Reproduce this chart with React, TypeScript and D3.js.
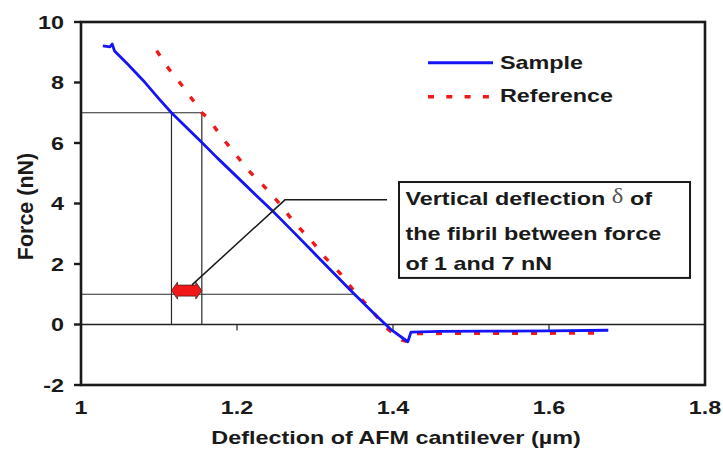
import React from "react";
import * as d3 from "d3";

// Force–deflection curves: [deflection (µm), force (nN)]
const sampleCurve: [number, number][] = [
  [1.028, 9.21], [1.037, 9.18], [1.040, 9.27], [1.043, 9.04], [1.060, 8.60],
  [1.080, 8.06], [1.100, 7.46], [1.116, 7.00], [1.135, 6.52], [1.155, 6.02],
  [1.175, 5.50], [1.200, 4.88], [1.225, 4.26], [1.246, 3.74], [1.270, 3.12],
  [1.295, 2.46], [1.320, 1.80], [1.349, 1.04], [1.375, 0.38], [1.398, -0.18],
  [1.419, -0.57], [1.423, -0.25], [1.460, -0.23], [1.520, -0.22], [1.600, -0.21],
  [1.676, -0.19],
];

const referenceCurve: [number, number][] = [
  [1.097, 9.05], [1.112, 8.47], [1.129, 7.92], [1.144, 7.40], [1.154, 7.02],
  [1.163, 6.82], [1.180, 6.21], [1.197, 5.66], [1.214, 5.11], [1.235, 4.56],
  [1.255, 3.98], [1.274, 3.35], [1.294, 2.82], [1.312, 2.24], [1.332, 1.70],
  [1.351, 1.08], [1.372, 0.48], [1.391, -0.10], [1.411, -0.51], [1.416, -0.55],
  [1.425, -0.30], [1.500, -0.29], [1.580, -0.29], [1.660, -0.28],
];

const seriesNames = ["Sample", "Reference"];
const xTicks = [1, 1.2, 1.4, 1.6, 1.8];
const xTickLabels = ["1", "1.2", "1.4", "1.6", "1.8"];
const yTicks = [-2, 0, 2, 4, 6, 8, 10];
const yTickLabels = ["-2", "0", "2", "4", "6", "8", "10"];
// forces between which the fibril deflection is measured
const deltaForces = [1, 7];
const xTitle = "Deflection of AFM cantilever (µm)";
const yTitle = "Force (nN)";
const noteLines = ["Vertical deflection ", " of", "the fibril between force", "of 1 and 7 nN"];

const W = 723;
const H = 450;
const plot = { left: 81, right: 705, top: 22, bottom: 385 };
const SX = 1.23;
const FONT = "'Liberation Sans', Arial, Helvetica, sans-serif";
const INK = "#1a1a1a";
const BLUE = "#1414f5";
const RED = "#f01818";

// first deflection at which a curve descends through the given force
function crossing(curve: [number, number][], f: number): number {
  for (let i = 1; i < curve.length; i++) {
    const [x0, y0] = curve[i - 1];
    const [x1, y1] = curve[i];
    if (y0 >= f && y1 <= f && y0 !== y1) {
      return x0 + ((y0 - f) / (y0 - y1)) * (x1 - x0);
    }
  }
  return curve[0][0];
}

function WideText(props: {
  x: number; y: number; anchor?: string; size?: number; children: React.ReactNode;
}) {
  const { x, y, anchor = "start", size = 19, children } = props;
  return (
    <g transform={`translate(${x},${y}) scale(${SX},1)`}>
      <text textAnchor={anchor} fontSize={size} fontWeight="bold" fontFamily={FONT} fill={INK}>
        {children}
      </text>
    </g>
  );
}

export default function App() {
  const x = d3.scaleLinear().domain([1, 1.8]).range([plot.left, plot.right]);
  const y = d3.scaleLinear().domain([-2, 10]).range([plot.bottom, plot.top]);
  const line = d3.line<[number, number]>().x((d) => x(d[0])).y((d) => y(d[1]));

  const [fLow, fHigh] = deltaForces;
  const xs7 = crossing(sampleCurve, fHigh);
  const xr7 = crossing(referenceCurve, fHigh);
  const xs1 = crossing(sampleCurve, fLow);

  // double-headed arrow marking the deflection difference
  const aL = x(xs7);
  const aR = x(xr7);
  const aY = y(1.12);
  const arrow = [
    [aL, aY], [aL + 6, aY - 8.5], [aL + 6, aY - 5.5], [aR - 6, aY - 5.5], [aR - 6, aY - 8.5],
    [aR, aY], [aR - 6, aY + 8.5], [aR - 6, aY + 5.5], [aL + 6, aY + 5.5], [aL + 6, aY + 8.5],
  ].map((p) => p.join(",")).join(" ");

  // callout from the note box to the arrow
  const callout: [number, number][] = [[1.3923, 4.12], [1.2615, 4.12], [1.1423, 1.31]];
  const box = { x0: 1.4077, x1: 1.7808, y0: 4.71, y1: 1.54 };

  return (
    <svg
      width={W}
      height={H}
      viewBox={`0 0 ${W} ${H}`}
      style={{ position: "absolute", left: 0, top: 0, background: "#fff" }}
    >
      <rect x={0} y={0} width={W} height={H} fill="#fff" />

      {/* zero force line with its ticks */}
      <line x1={plot.left} x2={plot.right} y1={y(0)} y2={y(0)} stroke="#222" strokeWidth={1.3} />
      {xTicks.slice(1, -1).map((t) => (
        <line key={t} x1={x(t)} x2={x(t)} y1={y(0)} y2={y(0) + 6} stroke="#222" strokeWidth={1.2} />
      ))}

      {/* guide lines at 1 and 7 nN */}
      <g stroke="#2a2a2a" strokeWidth={1.2} fill="none">
        <line x1={plot.left} x2={x(xr7)} y1={y(fHigh)} y2={y(fHigh)} />
        <line x1={plot.left} x2={x(xs1)} y1={y(fLow)} y2={y(fLow)} />
        <line x1={x(xs7)} x2={x(xs7)} y1={y(fHigh)} y2={y(0)} />
        <line x1={x(xr7)} x2={x(xr7)} y1={y(fHigh)} y2={y(0)} />
      </g>

      {/* curves */}
      <path d={line(referenceCurve) || ""} fill="none" stroke={RED} strokeWidth={3.4} strokeDasharray="6 13" />
      <path d={line(sampleCurve) || ""} fill="none" stroke={BLUE} strokeWidth={2.8} strokeLinejoin="round" />

      {/* plot frame */}
      <rect
        x={plot.left}
        y={plot.top}
        width={plot.right - plot.left}
        height={plot.bottom - plot.top}
        fill="none"
        stroke={INK}
        strokeWidth={2.6}
      />

      {/* y axis ticks and labels */}
      {yTicks.map((t, i) => (
        <g key={t}>
          <line x1={plot.left - 7} x2={plot.left} y1={y(t)} y2={y(t)} stroke={INK} strokeWidth={2.4} />
          <WideText x={64} y={y(t) + 6.8} anchor="end">{yTickLabels[i]}</WideText>
        </g>
      ))}

      {/* x axis labels */}
      {xTicks.map((t, i) => (
        <WideText key={t} x={x(t)} y={413.5} anchor="middle">{xTickLabels[i]}</WideText>
      ))}
      <WideText x={396} y={443.5} anchor="middle">{xTitle}</WideText>
      <text
        transform={`translate(33,${(plot.top + plot.bottom) / 2 + 3}) rotate(-90)`}
        textAnchor="middle"
        fontSize={21.5}
        fontWeight="bold"
        fontFamily={FONT}
        fill={INK}
      >
        {yTitle}
      </text>

      {/* legend */}
      <line x1={428} x2={493} y1={62.7} y2={62.7} stroke={BLUE} strokeWidth={3} />
      <WideText x={500} y={69.3}>{seriesNames[0]}</WideText>
      <line x1={428} x2={491} y1={96.7} y2={96.7} stroke={RED} strokeWidth={3.4} strokeDasharray="6 12.3" />
      <WideText x={500} y={101.7}>{seriesNames[1]}</WideText>

      {/* deflection arrow */}
      <polygon points={arrow} fill={RED} stroke="#4a2222" strokeWidth={0.8} strokeLinejoin="round" />

      {/* callout */}
      <polyline
        points={callout.map((p) => `${x(p[0])},${y(p[1])}`).join(" ")}
        fill="none"
        stroke={INK}
        strokeWidth={1.5}
      />
      <rect
        x={x(box.x0)}
        y={y(box.y0)}
        width={x(box.x1) - x(box.x0)}
        height={y(box.y1) - y(box.y0)}
        fill="#fff"
        stroke={INK}
        strokeWidth={2}
      />
      <WideText x={405.5} y={205}>
        {noteLines[0]}
        <tspan fontFamily="'Liberation Serif', 'Times New Roman', serif" fontWeight="normal" fill="#555" fontSize={20} dy={-2}>
          δ
        </tspan>
        <tspan dy={2}>{noteLines[1]}</tspan>
      </WideText>
      <WideText x={405.5} y={239.5}>{noteLines[2]}</WideText>
      <WideText x={405.5} y={269.5}>{noteLines[3]}</WideText>
    </svg>
  );
}
